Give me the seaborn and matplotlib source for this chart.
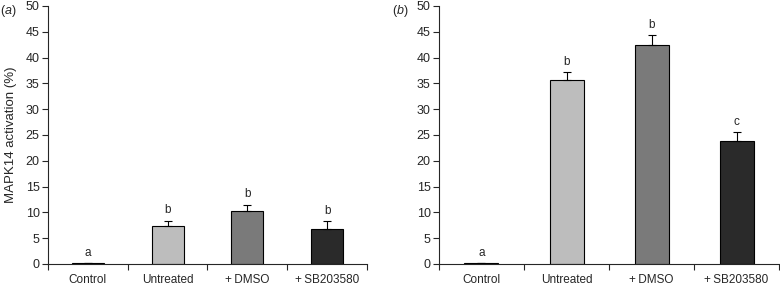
import numpy as np
import pandas as pd
import seaborn as sns
import matplotlib.pyplot as plt

# data
groups = ['Control', 'Untreated', '+\u2009DMSO', '+\u2009SB203580']
mean_a = [0.1, 7.4, 10.2, 6.8]
err_a = [0.0, 1.0, 1.3, 1.5]
sig_a = ['a', 'b', 'b', 'b']
mean_b = [0.1, 35.6, 42.5, 23.9]
err_b = [0.0, 1.6, 1.9, 1.7]
sig_b = ['a', 'b', 'b', 'c']
colors = ['#ffffff', '#bdbdbd', '#7a7a7a', '#2a2a2a']

sns.set_style('ticks')
plt.rcParams['font.family'] = ['Liberation Sans', 'DejaVu Sans']
plt.rcParams['font.size'] = 8.5
plt.rcParams['mathtext.fontset'] = 'custom'
plt.rcParams['mathtext.it'] = 'Liberation Sans:italic'
plt.rcParams['mathtext.rm'] = 'Liberation Sans'

fig = plt.figure(figsize=(7.8, 2.85), dpi=100)
ax_a = fig.add_axes([0.0615, 0.074, 0.409, 0.905])
ax_b = fig.add_axes([0.5628, 0.074, 0.436, 0.905])

def panel(ax, means, errs, sigs, tag, lx):
    df = pd.DataFrame({'group': groups, 'value': means})
    sns.barplot(data=df, x='group', y='value', hue='group', palette=colors,
                width=0.4, edgecolor='black', linewidth=0.8, legend=False,
                errorbar=None, ax=ax)
    x = np.arange(len(groups))
    ax.errorbar(x, means, yerr=[np.zeros(len(errs)), errs], fmt='none',
                ecolor='black', elinewidth=0.8, capsize=3, capthick=0.8)
    for xi, m, e, s in zip(x, means, errs, sigs):
        ax.text(xi, m + e + 0.8, s, ha='center', va='bottom', fontsize=8.5)
    ax.set_ylim(0, 50)
    ax.set_yticks(np.arange(0, 51, 5))
    ax.set_xlim(-0.5, len(groups) - 0.5)
    ax.set_xticks(x)
    ax.set_xticklabels(groups, fontsize=8.5)
    ax.set_xticks(np.arange(-0.5, len(groups), 1), minor=True)
    ax.tick_params(axis='x', which='major', length=0, pad=7)
    ax.tick_params(axis='x', which='minor', length=4, width=0.8, direction='out')
    ax.tick_params(axis='y', length=4, width=0.8, direction='out', pad=2,
                   labelsize=9)
    ax.set_xlabel('')
    ax.set_ylabel('')
    for sp in ['top', 'right']:
        ax.spines[sp].set_visible(False)
    for sp in ['left', 'bottom']:
        ax.spines[sp].set_linewidth(0.8)
    ax.text(lx, 0.982, '($\\it{' + tag + '}$)', transform=ax.transAxes,
            ha='left', va='center', fontsize=9)

panel(ax_a, mean_a, err_a, sig_a, 'a', -0.15)
panel(ax_b, mean_b, err_b, sig_b, 'b', -0.137)
ax_a.set_ylabel('MAPK14 activation (%)', fontsize=9.5, labelpad=6)

fig.savefig('out.png', dpi=100)
